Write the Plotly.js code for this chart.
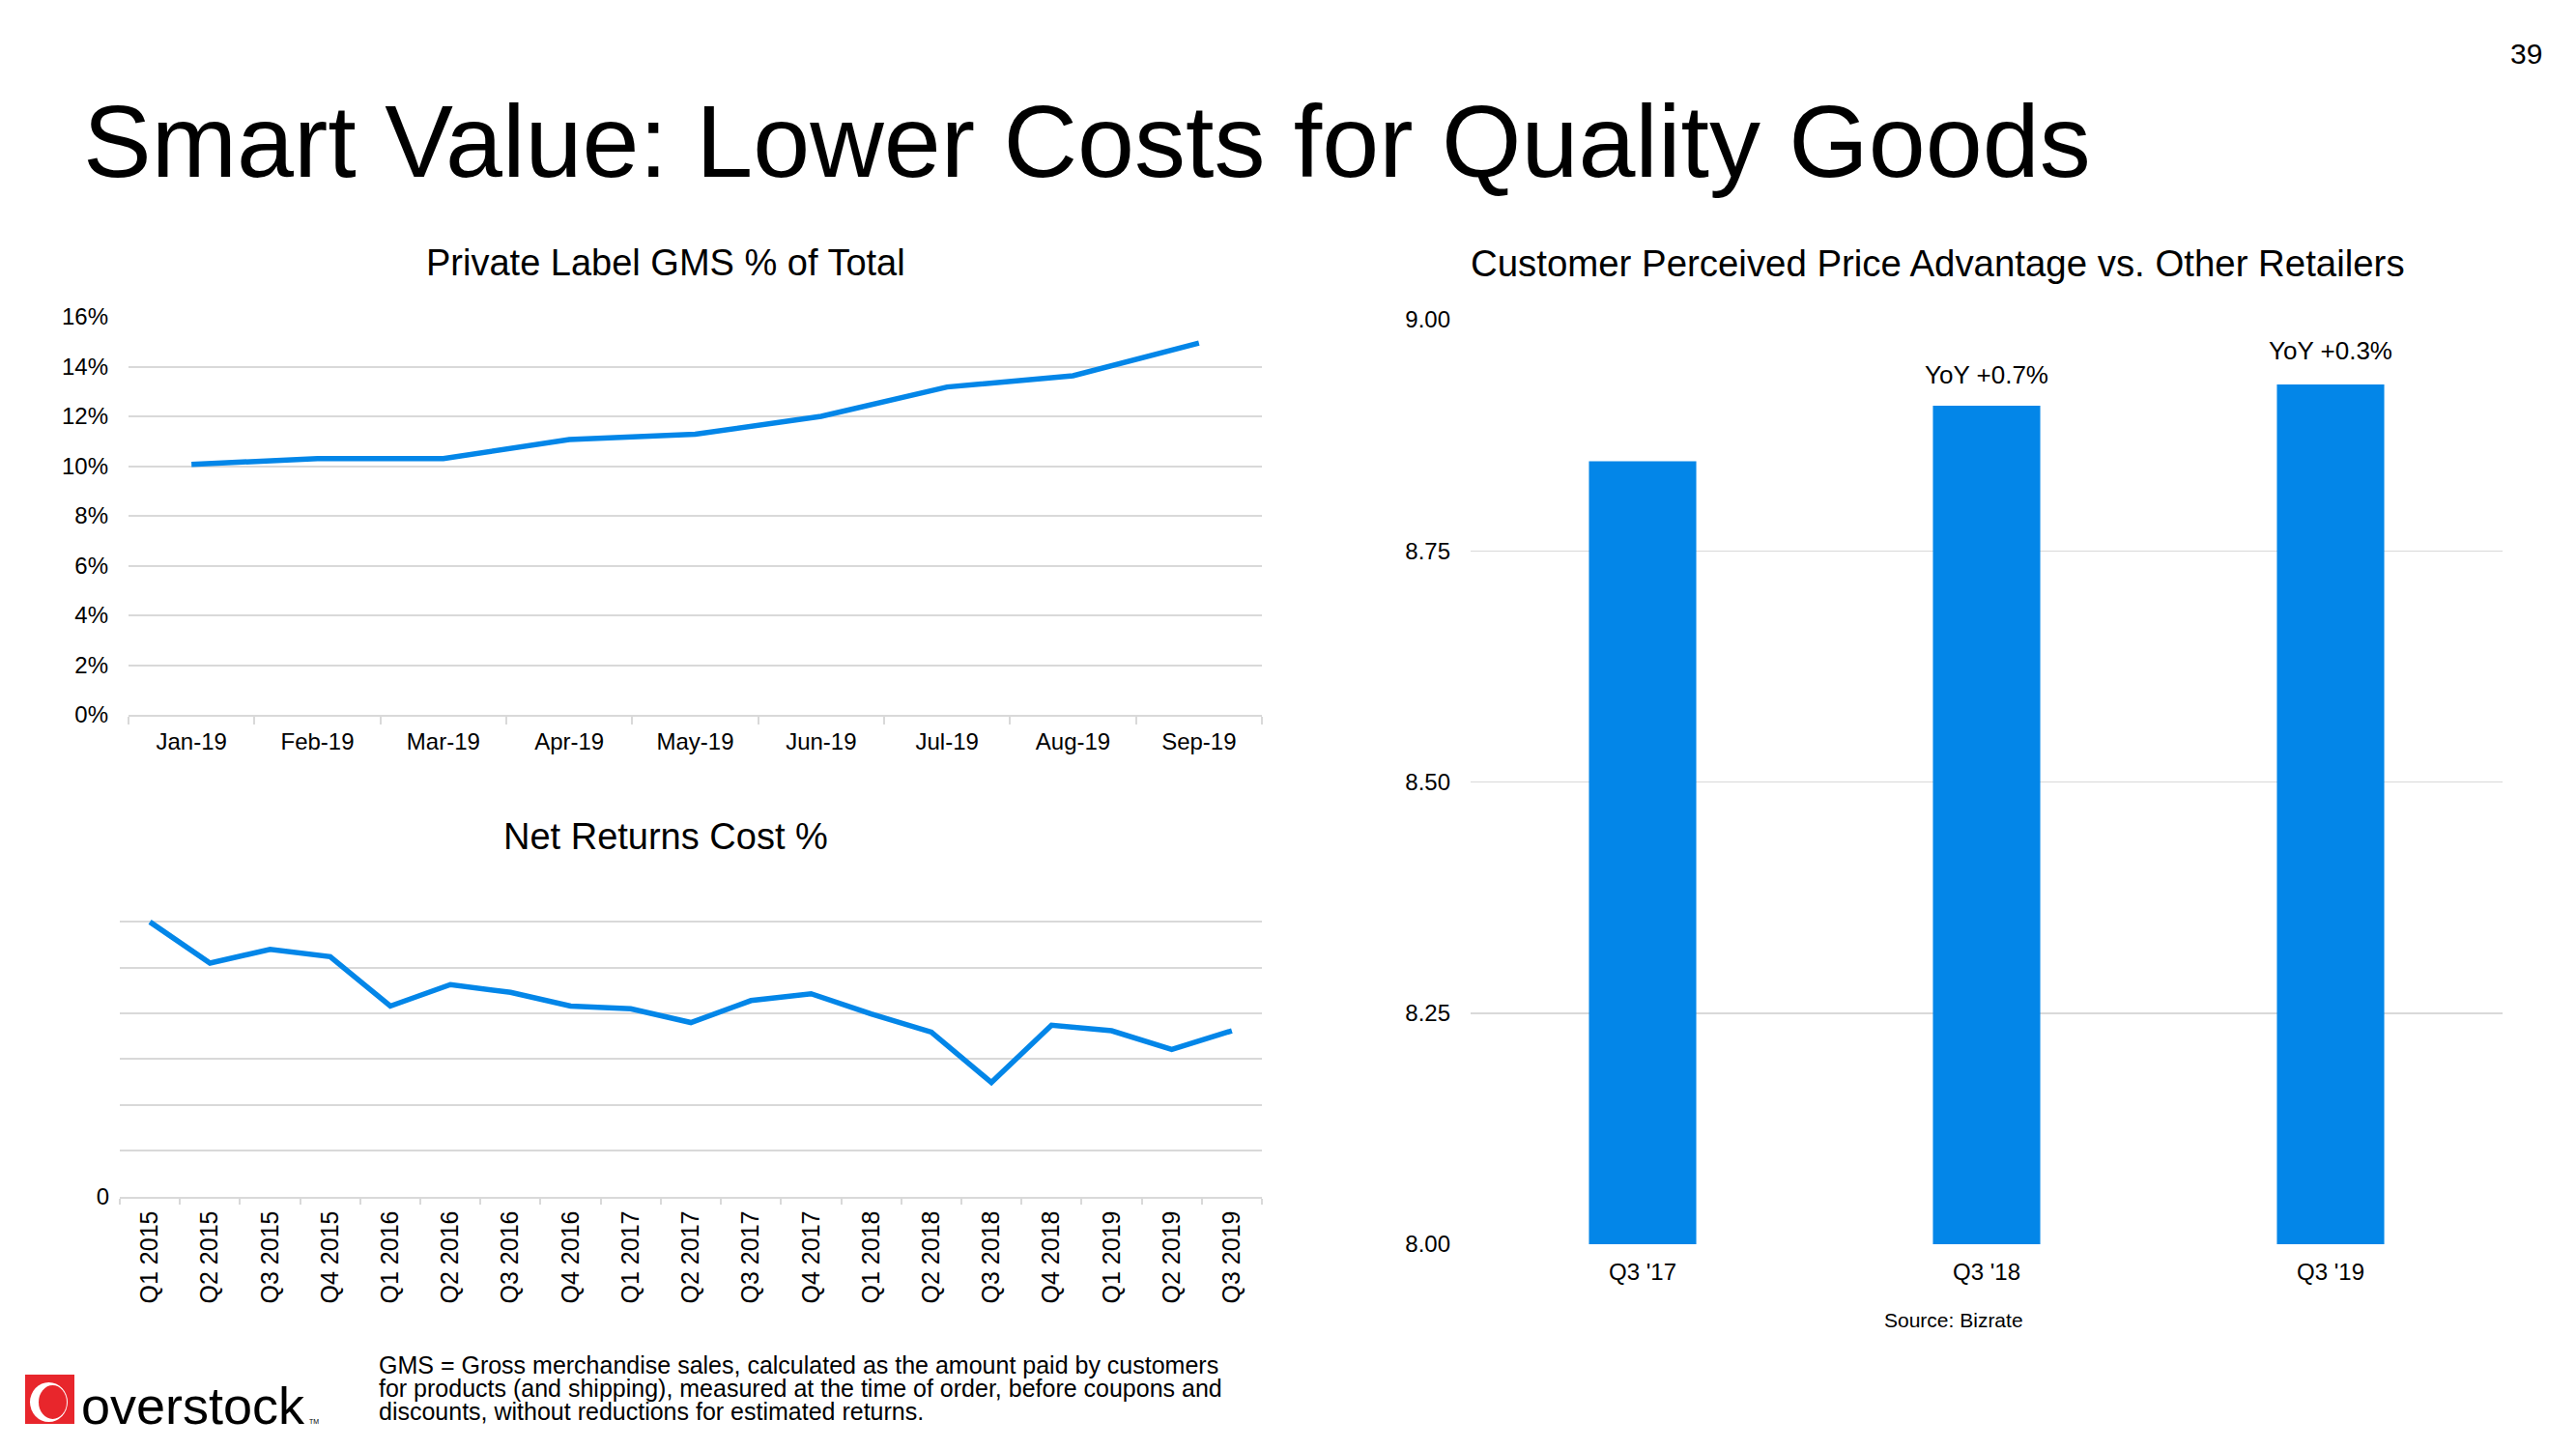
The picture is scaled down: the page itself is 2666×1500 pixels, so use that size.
<!DOCTYPE html>
<html>
<head>
<meta charset="utf-8">
<script src="https://cdn.plot.ly/plotly-3.0.1.min.js"></script>
<style>
  html, body { margin: 0; padding: 0; background: #ffffff; }
  #chart { width: 2666px; height: 1500px; }
</style>
</head>
<body>
<div id="chart"></div>
<script>
// ---------- DATA ----------
const monthLabels = ["Jan-19", "Feb-19", "Mar-19", "Apr-19", "May-19", "Jun-19", "Jul-19", "Aug-19", "Sep-19"];
const privateLabelPct = [10.07, 10.3, 10.3, 11.07, 11.28, 12.0, 13.18, 13.63, 14.95];

const quarterLabels = ["Q1 2015", "Q2 2015", "Q3 2015", "Q4 2015", "Q1 2016", "Q2 2016", "Q3 2016", "Q4 2016",
                       "Q1 2017", "Q2 2017", "Q3 2017", "Q4 2017", "Q1 2018", "Q2 2018", "Q3 2018", "Q4 2018",
                       "Q1 2019", "Q2 2019", "Q3 2019"];
const netReturnsCost = [6.0, 5.1, 5.4, 5.24, 4.16, 4.63, 4.46, 4.16, 4.1, 3.8, 4.28, 4.43, 3.99, 3.59, 2.49, 3.74, 3.62, 3.21, 3.62];
const netReturnsTickVals = [0, 1, 2, 3, 4, 5, 6, 7];
const netReturnsTickText = ["0", "", "", "", "", "", "", ""];

const priceQuarters = ["Q3 '17", "Q3 '18", "Q3 '19"];
const priceAdvantage = [8.847, 8.907, 8.930];
const yoyLabels = ["", "YoY +0.7%", "YoY +0.3%"];
const yoyLabelY = [null, 8.94, 8.967];

// ---------- LAYOUT HELPERS ----------
const W = 2666, H = 1500;
const fx = p => p / W;
const fy = p => 1 - p / H;
const FONT = "Liberation Sans, Arial, Helvetica, sans-serif";
const BLUE = "#0386E8";
const GRID = "#d9d9d9";

const traces = [
  {
    type: "scatter", mode: "lines", x: monthLabels, y: privateLabelPct,
    xaxis: "x", yaxis: "y",
    line: { color: BLUE, width: 5.5 }, hoverinfo: "skip"
  },
  {
    type: "scatter", mode: "lines", x: quarterLabels, y: netReturnsCost,
    xaxis: "x2", yaxis: "y2",
    line: { color: BLUE, width: 5.5 }, hoverinfo: "skip"
  },
  {
    type: "bar", x: priceQuarters, y: priceAdvantage,
    xaxis: "x3", yaxis: "y3",
    marker: { color: BLUE, line: { width: 0 } }, hoverinfo: "skip"
  }
];

const annotations = [
  { text: "Smart Value: Lower Costs for Quality Goods", x: fx(84), y: fy(146), xanchor: "left", yanchor: "middle",
    font: { size: 106, color: "#000" } },
  { text: "39", x: fx(2614), y: fy(56), xanchor: "center", yanchor: "middle", font: { size: 30, color: "#000" } },
  { text: "Private Label GMS % of Total", x: fx(689), y: fy(272), xanchor: "center", yanchor: "middle",
    font: { size: 38, color: "#000" } },
  { text: "Net Returns Cost %", x: fx(689), y: fy(866), xanchor: "center", yanchor: "middle",
    font: { size: 38, color: "#000" } },
  { text: "Customer Perceived Price Advantage vs. Other Retailers", x: fx(2005), y: fy(272), xanchor: "center", yanchor: "middle",
    font: { size: 38.4, color: "#000" } },
  { text: "Source: Bizrate", x: fx(2022), y: fy(1366), xanchor: "center", yanchor: "middle",
    font: { size: 21, color: "#000" } },
  { text: "GMS = Gross merchandise sales, calculated as the amount paid by customers", x: fx(390), y: fy(1413),
    xanchor: "left", yanchor: "middle", font: { size: 25, color: "#000" } },
  { text: "for products (and shipping), measured at the time of order, before coupons and", x: fx(390), y: fy(1437),
    xanchor: "left", yanchor: "middle", font: { size: 25, color: "#000" } },
  { text: "discounts, without reductions for estimated returns.", x: fx(390), y: fy(1461),
    xanchor: "left", yanchor: "middle", font: { size: 25, color: "#000" } },
  { text: "overstock", x: fx(82), y: fy(1455), xanchor: "left", yanchor: "middle",
    font: { size: 54, color: "#000" } },
  { text: "TM", x: fx(318), y: fy(1471), xanchor: "left", yanchor: "middle",
    font: { size: 7, color: "#000" } }
];

// YoY labels above bars
priceQuarters.forEach((q, i) => {
  if (yoyLabels[i]) {
    annotations.push({ text: yoyLabels[i], x: q, y: yoyLabelY[i], xref: "x3", yref: "y3",
      xanchor: "center", yanchor: "middle", showarrow: false, font: { size: 26, color: "#000" } });
  }
});
annotations.forEach(a => {
  if (!a.xref) { a.xref = "paper"; a.yref = "paper"; a.showarrow = false; }
});

const shapes = [
  { type: "rect", xref: "paper", yref: "paper", x0: fx(26), x1: fx(77), y0: fy(1474), y1: fy(1423),
    fillcolor: "#e8262c", line: { width: 0 } },
  { type: "circle", xref: "paper", yref: "paper", x0: fx(31), x1: fx(70), y0: fy(1472), y1: fy(1431),
    fillcolor: "#ffffff", line: { width: 0 } },
  { type: "circle", xref: "paper", yref: "paper", x0: fx(40), x1: fx(69), y0: fy(1469), y1: fy(1434),
    fillcolor: "#e8262c", line: { width: 0 } }
];

const tickFont = { size: 24, color: "#000", family: FONT };

const layout = {
  width: W, height: H,
  margin: { l: 0, r: 0, t: 0, b: 0, pad: 0 },
  paper_bgcolor: "#ffffff", plot_bgcolor: "#ffffff",
  font: { family: FONT, color: "#000" },
  showlegend: false,
  xaxis: {
    domain: [fx(133), fx(1306)], anchor: "y", type: "category", range: [-0.5, monthLabels.length - 0.5],
    showgrid: false, showline: true, linecolor: GRID, linewidth: 2,
    ticks: "outside", tickson: "boundaries", ticklen: 8, tickcolor: GRID, tickwidth: 2,
    ticklabelstandoff: 5, tickfont: tickFont, fixedrange: true
  },
  yaxis: {
    domain: [fy(740), fy(328)], anchor: "x", range: [0, 16], dtick: 2, ticksuffix: "%",
    showgrid: true, gridcolor: GRID, gridwidth: 2, zeroline: false, showline: false,
    ticklabelstandoff: 20, tickfont: tickFont, fixedrange: true
  },
  xaxis2: {
    domain: [fx(124), fx(1306)], anchor: "y2", type: "category", range: [-0.5, quarterLabels.length - 0.5],
    showgrid: false, showline: true, linecolor: GRID, linewidth: 2,
    ticks: "outside", tickson: "boundaries", ticklen: 6, tickcolor: GRID, tickwidth: 2,
    tickangle: -90, ticklabelstandoff: 3, tickfont: { size: 25, color: "#000", family: FONT }, fixedrange: true
  },
  yaxis2: {
    domain: [fy(1238.5), fy(907)], anchor: "x2", range: [0, 7],
    tickmode: "array", tickvals: netReturnsTickVals, ticktext: netReturnsTickText,
    showgrid: true, gridcolor: GRID, gridwidth: 2, zeroline: false, showline: false,
    ticklabelstandoff: 10, tickfont: tickFont, fixedrange: true
  },
  xaxis3: {
    domain: [fx(1522), fx(2590)], anchor: "y3", type: "category",
    showgrid: false, showline: false, ticks: "", ticklabelstandoff: 12, tickfont: tickFont, fixedrange: true
  },
  yaxis3: {
    domain: [fy(1288), fy(331)], anchor: "x3", range: [8, 9], dtick: 0.25, tickformat: ".2f",
    showgrid: true, gridcolor: GRID, gridwidth: 1.5, zeroline: false, showline: false,
    ticklabelstandoff: 20, tickfont: tickFont, fixedrange: true
  },
  bargap: 0.688,
  annotations: annotations,
  shapes: shapes
};

Plotly.newPlot("chart", traces, layout, { displayModeBar: false, staticPlot: true });
</script>
</body>
</html>
